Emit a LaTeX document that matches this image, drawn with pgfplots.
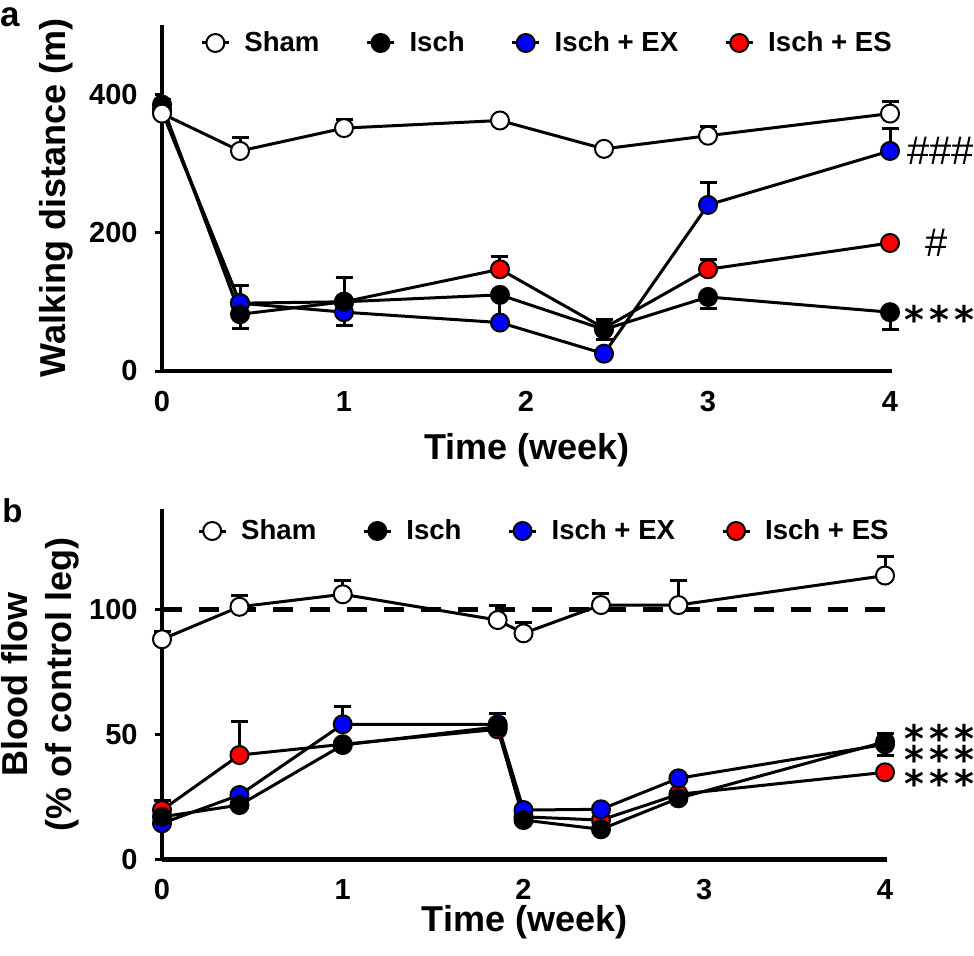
\documentclass[border=0pt]{standalone}
\usepackage{fontspec}
\setmainfont{Liberation Sans}
\newfontfamily\dejavu{DejaVu Sans}
\usepackage{pgfplots}
\pgfplotsset{compat=1.18}
\pgfplotsset{
  base/.style={
    scale only axis, clip=false,
    axis lines=left,
    axis line style={-, line width=2.2pt, black},
    xmin=0,
    tick align=outside,
    major tick length=3.5pt,
    ytick style={line width=1.5pt, black},
    xtick style={draw=none},
    /pgf/number format/assume math mode=true,
    tick label style={font=\fontsize{14.5}{17}\selectfont\bfseries, inner sep=0pt},
    yticklabel style={anchor=east, xshift=-8.5pt},
    xticklabel style={anchor=base, yshift=-16.5pt},
    label style={font=\fontsize{18}{22}\selectfont\bfseries},
    legend columns=4,
    legend cell align=left,
    legend style={draw=none, fill=none, inner sep=0pt,
      font=\fontsize{13.8}{16}\selectfont\bfseries,
      /tikz/every odd column/.append style={column sep=5pt},
      /tikz/every even column/.append style={column sep=21pt}},
    legend image code/.code={\draw[mark repeat=2,mark phase=2] plot coordinates {(0pt,0pt)(6.75pt,0pt)(13.5pt,0pt)};},
  },
  ser/.style={line width=1.5pt, black, mark=*, mark size=4.5pt, mark options={draw=black, line width=1pt, fill=#1, solid}},
  sham/.style={ser=white},
  isch/.style={ser=black},
  ex/.style={ser=blue},
  es/.style={ser=red},
  errb/.style={error bars/.cd, y dir=both, y explicit,
     error bar style={line width=1.5pt, black, solid},
     error mark options={black, line width=1.5pt, mark size=4.25pt, rotate=90},
     /pgfplots/.cd},
}
\tikzset{stars/.style={anchor=base west, inner sep=0pt, font=\dejavu\bfseries\fontsize{19}{19}\selectfont}}
\newcommand\threestars{*\kern2.5pt*\kern2.5pt*}
\begin{document}
\begin{tikzpicture}
\useasboundingbox (0,0) rectangle (487pt,477.5pt);
\node[anchor=north west, inner sep=0pt, font=\fontsize{17.5}{17.5}\selectfont\bfseries] at (0pt,474pt) {a};
\node[anchor=north west, inner sep=0pt, font=\fontsize{16.5}{16.5}\selectfont\bfseries] at (1pt,228.5pt) {b};

% ---------------- Panel a ----------------
\begin{axis}[base, at={(81pt,292pt)}, anchor=south west,
  width=365pt, height=173pt, xmax=4.011, ymin=0, ymax=500,
  ytick={0,200,400}, xtick={0,1,2,3,4},
  ylabel={Walking distance (m)}, xlabel={Time (week)},
  ylabel style={at={(axis description cs:-0.145,0.5)}, anchor=center},
  xlabel style={at={(axis description cs:0.5,-0.257)}, anchor=base},
  legend style={at={(axis description cs:0.052,0.948)}, anchor=west}]
\addplot[es, forget plot, errb] coordinates {
 (0,378) += (0,0) -= (0,0)
 (0.4286,98) += (0,0) -= (0,0)
 (1,100) += (0,0) -= (0,0)
 (1.857,147) += (0,19) -= (0,0)
 (2.4286,62) += (0,0) -= (0,0)
 (3,147) += (0,14) -= (0,0)
 (4,185) += (0,0) -= (0,0)};
\addplot[ex, forget plot, errb] coordinates {
 (0,375) += (0,0) -= (0,0)
 (0.4286,98) += (0,26) -= (0,0)
 (1,85) += (0,0) -= (0,19)
 (1.857,70) += (0,0) -= (0,0)
 (2.4286,25) += (0,0) -= (0,0)
 (3,240) += (0,33) -= (0,0)
 (4,318) += (0,33) -= (0,0)};
\addplot[isch, forget plot, errb] coordinates {
 (0,385) += (0,8) -= (0,0)
 (0.4286,82) += (0,0) -= (0,21)
 (1,100) += (0,35) -= (0,0)
 (1.857,110) += (0,0) -= (0,37)
 (2.4286,60) += (0,14) -= (0,15)
 (3,107) += (0,0) -= (0,16)
 (4,85) += (0,0) -= (0,25)};
\addplot[sham, forget plot, errb] coordinates {
 (0,372) += (0,0) -= (0,0)
 (0.4286,318) += (0,19) -= (0,0)
 (1,351) += (0,13) -= (0,0)
 (1.857,362) += (0,0) -= (0,0)
 (2.4286,321) += (0,0) -= (0,0)
 (3,340) += (0,14) -= (0,0)
 (4,372) += (0,18) -= (0,0)};
\addlegendimage{sham}
\addlegendimage{isch}
\addlegendimage{ex}
\addlegendimage{es}
\legend{Sham, Isch, Isch + EX, Isch + ES}
\node[anchor=base west, inner sep=0pt, font=\fontsize{20}{20}\selectfont, xshift=8.5pt] at (axis cs:4,299) {\#\#\#};
\node[anchor=base west, inner sep=0pt, font=\fontsize{20}{20}\selectfont, xshift=17.5pt] at (axis cs:4,165) {\#};
\node[stars, xshift=7pt] at (axis cs:4,53.5) {\threestars};
\end{axis}

% ---------------- Panel b ----------------
\begin{axis}[base, at={(81pt,47.85pt)}, anchor=south west,
  width=362.5pt, height=175pt, xmax=4.011, ymin=0, ymax=140,
  ytick={0,50,100}, xtick={0,1,2,3,4},
  ylabel={Blood flow\\(\% of control leg)}, xlabel={Time (week)},
  ylabel style={at={(axis description cs:-0.168,0.5)}, anchor=center, align=center},
  xlabel style={at={(axis description cs:0.5,-0.205)}, anchor=base},
  legend style={at={(axis description cs:0.048,0.938)}, anchor=west}]
\addplot[black, line width=2.2pt, dash pattern=on 10pt off 8.5pt, forget plot] coordinates {(0,100) (4.08,100)};
\addplot[es, forget plot, errb] coordinates {
 (0,19.7) += (0,4) -= (0,0)
 (0.4286,41.7) += (0,13.3) -= (0,0)
 (1,46) += (0,0) -= (0,0)
 (1.857,52) += (0,0) -= (0,0)
 (2,17) += (0,0) -= (0,0)
 (2.4286,15.7) += (0,0) -= (0,0)
 (2.857,26) += (0,0) -= (0,0)
 (4,34.8) += (0,0) -= (0,0)};
\addplot[ex, forget plot, errb] coordinates {
 (0,14.4) += (0,0) -= (0,0)
 (0.4286,25.7) += (0,0) -= (0,0)
 (1,54) += (0,7) -= (0,0)
 (1.857,54) += (0,0) -= (0,0)
 (2,19.7) += (0,0) -= (0,0)
 (2.4286,20) += (0,0) -= (0,0)
 (2.857,32.4) += (0,0) -= (0,0)
 (4,46) += (0,0) -= (0,4.3)};
\addplot[isch, forget plot, errb] coordinates {
 (0,17) += (0,0) -= (0,0)
 (0.4286,21.7) += (0,0) -= (0,0)
 (1,45.7) += (0,0) -= (0,0)
 (1.857,53) += (0,5.5) -= (0,0)
 (2,15.7) += (0,0) -= (0,0)
 (2.4286,12) += (0,0) -= (0,0)
 (2.857,24.4) += (0,0) -= (0,0)
 (4,47) += (0,3.5) -= (0,0)};
\addplot[sham, forget plot, errb] coordinates {
 (0,88) += (0,3) -= (0,0)
 (0.4286,101) += (0,4.5) -= (0,0)
 (1,106) += (0,5.5) -= (0,0)
 (1.857,95.7) += (0,6) -= (0,0)
 (2,90.4) += (0,4.5) -= (0,0)
 (2.4286,101.7) += (0,4.5) -= (0,0)
 (2.857,101.7) += (0,10) -= (0,0)
 (4,113.5) += (0,7.5) -= (0,0)};
\addlegendimage{sham}
\addlegendimage{isch}
\addlegendimage{ex}
\addlegendimage{es}
\legend{Sham, Isch, Isch + EX, Isch + ES}
\node[stars, xshift=9.5pt] at (axis cs:4,42.9) {\threestars};
\node[stars, xshift=9.5pt] at (axis cs:4,34.5) {\threestars};
\node[stars, xshift=9.5pt] at (axis cs:4,24.9) {\threestars};
\end{axis}
\end{tikzpicture}
\end{document}
